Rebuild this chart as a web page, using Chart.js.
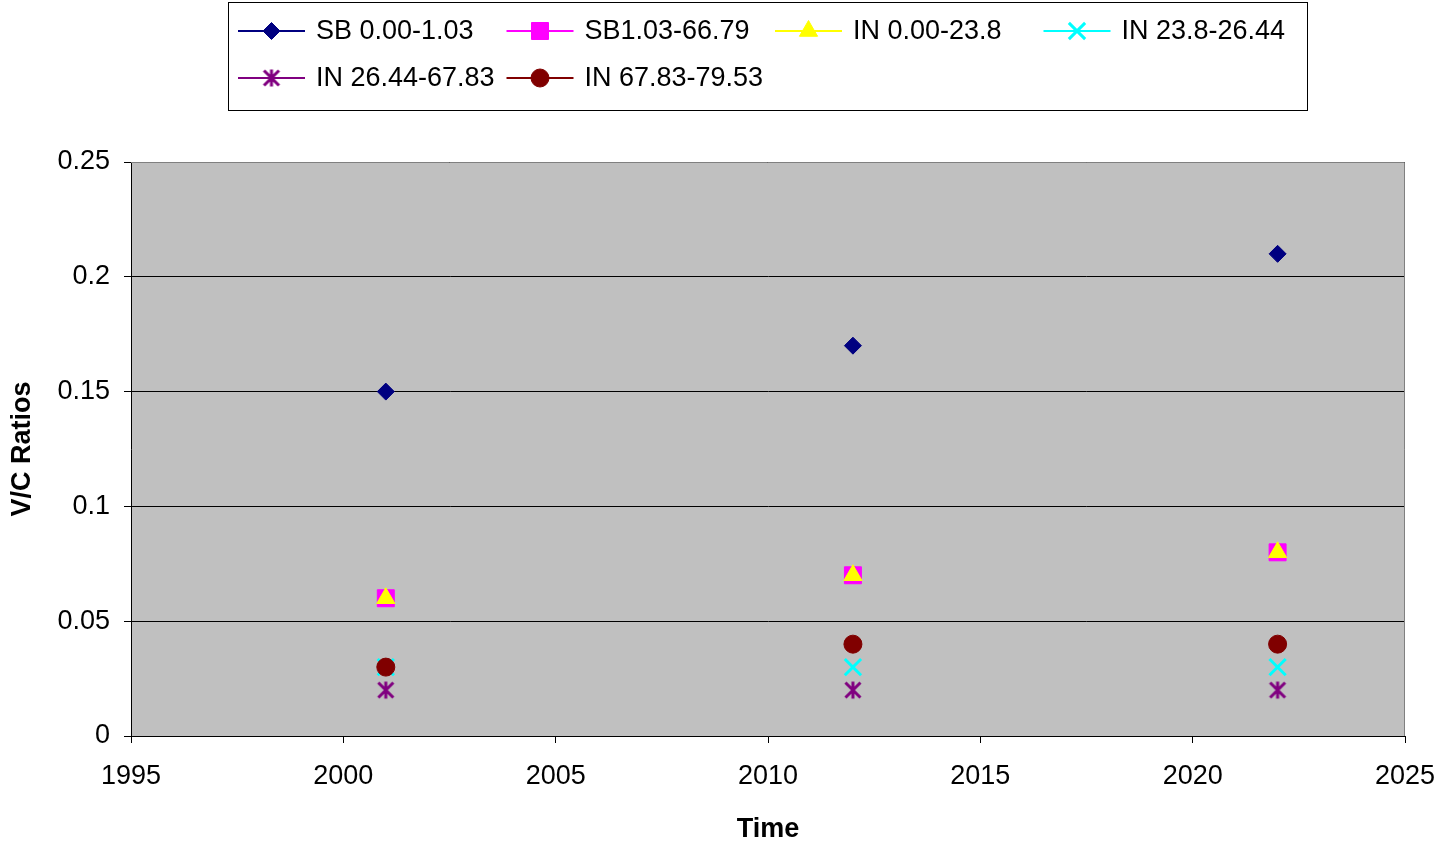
<!DOCTYPE html>
<html>
<head>
<meta charset="utf-8">
<script src="https://cdn.jsdelivr.net/npm/chart.js@4/dist/chart.umd.min.js"></script>
<style>
  html, body { margin: 0; padding: 0; background: #ffffff; }
</style>
</head>
<body>
<canvas id="scatter-chart" width="1450" height="842"></canvas>
<script>
const years = [2001, 2012, 2022];

const seriesNames = [
  "SB 0.00-1.03",
  "SB1.03-66.79",
  "IN 0.00-23.8",
  "IN 23.8-26.44",
  "IN 26.44-67.83",
  "IN 67.83-79.53",
];

const sb_000_103 = [0.15, 0.17, 0.21];
const sb_103_6679 = [0.06, 0.07, 0.08];
const in_000_238 = [0.06, 0.07, 0.08];
const in_238_2644 = [0.03, 0.03, 0.03];
const in_2644_6783 = [0.02, 0.02, 0.02];
const in_6783_7953 = [0.03, 0.04, 0.04];

const xTicks = [1995, 2000, 2005, 2010, 2015, 2020, 2025];
const yTicks = [0, 0.05, 0.1, 0.15, 0.2, 0.25];

const FONT = "'Liberation Sans', Arial, sans-serif";

// excel style asterisk marker (vertical bar + x)
const makeAsterisk = (color) => {
  const c = document.createElement("canvas");
  c.width = 20;
  c.height = 20;
  const g = c.getContext("2d");
  g.strokeStyle = color;
  g.lineWidth = 3;
  g.beginPath();
  g.moveTo(10, 1.5);
  g.lineTo(10, 18.5);
  g.moveTo(2.5, 2.5);
  g.lineTo(17.5, 17.5);
  g.moveTo(17.5, 2.5);
  g.lineTo(2.5, 17.5);
  g.stroke();
  return c;
};

const toPoints = (values) => values.map((v, i) => ({ x: years[i], y: v }));

const styles = [
  { color: "#000080", pointStyle: "rectRot", radius: 8.5, width: 1 },
  { color: "#ff00ff", pointStyle: "rect", radius: 12, width: 1 },
  { color: "#ffff00", pointStyle: "triangle", radius: 10.5, width: 1 },
  { color: "#00ffff", pointStyle: "crossRot", radius: 11.5, width: 3 },
  { color: "#800080", pointStyle: makeAsterisk("#800080"), radius: 9, width: 0 },
  { color: "#800000", pointStyle: "circle", radius: 9, width: 1 },
];

const seriesValues = [sb_000_103, sb_103_6679, in_000_238, in_238_2644, in_2644_6783, in_6783_7953];

const datasets = seriesValues.map((values, i) => ({
  label: seriesNames[i],
  data: toPoints(values),
  borderColor: styles[i].color,
  backgroundColor: styles[i].color,
  pointStyle: styles[i].pointStyle,
  pointRadius: styles[i].radius,
  pointHoverRadius: styles[i].radius,
  borderWidth: styles[i].width,
  order: seriesValues.length - 1 - i,
}));

const plotBackground = {
  id: "plotBackground",
  beforeDraw(chart) {
    const { ctx, chartArea } = chart;
    ctx.save();
    ctx.fillStyle = "#c0c0c0";
    ctx.fillRect(chartArea.left, chartArea.top, chartArea.right - chartArea.left, chartArea.bottom - chartArea.top);
    ctx.restore();
  },
  beforeDatasetsDraw(chart) {
    const { ctx, chartArea } = chart;
    ctx.save();
    ctx.strokeStyle = "#808080";
    ctx.lineWidth = 1;
    ctx.beginPath();
    ctx.moveTo(chartArea.left, chartArea.top + 0.5);
    ctx.lineTo(chartArea.right - 0.5, chartArea.top + 0.5);
    ctx.lineTo(chartArea.right - 0.5, chartArea.bottom);
    ctx.stroke();
    ctx.restore();
  },
};

const legendBox = {
  id: "legendBox",
  afterDraw(chart) {
    const ctx = chart.ctx;
    ctx.save();
    ctx.strokeStyle = "#000000";
    ctx.lineWidth = 1;
    ctx.strokeRect(228.5, 2.5, 1079, 108);
    chart.data.datasets.forEach((ds, i) => {
      const col = i % 4;
      const row = Math.floor(i / 4);
      const x0 = 238 + col * 268.5;
      const y = 31 + row * 47;
      ctx.strokeStyle = ds.borderColor;
      ctx.lineWidth = 2;
      ctx.beginPath();
      ctx.moveTo(x0, y);
      ctx.lineTo(x0 + 67, y);
      ctx.stroke();
      ctx.fillStyle = ds.backgroundColor;
      ctx.lineWidth = ds.borderWidth;
      Chart.helpers.drawPoint(ctx, {
        pointStyle: ds.pointStyle,
        radius: ds.pointRadius,
        borderWidth: ds.borderWidth,
        rotation: 0,
      }, x0 + 33.5, y);
      ctx.fillStyle = "#000000";
      ctx.font = "27px " + FONT;
      ctx.textBaseline = "middle";
      ctx.textAlign = "left";
      ctx.fillText(ds.label, x0 + 78, y + 1);
    });
    ctx.restore();
  },
};

Chart.defaults.font.family = FONT;
Chart.defaults.color = "#000000";

const myChart = new Chart("scatter-chart", {
  type: "scatter",
  data: { datasets: datasets },
  plugins: [plotBackground, legendBox],
  options: {
    responsive: false,
    animation: false,
    layout: {
      padding: { top: 162, right: 45, left: 0, bottom: 0 },
    },
    scales: {
      x: {
        type: "linear",
        min: xTicks[0],
        max: xTicks[xTicks.length - 1],
        afterBuildTicks: (axis) => {
          axis.ticks = xTicks.map((v) => ({ value: v }));
        },
        afterFit: (axis) => {
          axis.height = 106;
          axis.paddingRight = 0;
          axis.paddingLeft = 0;
        },
        border: { color: "#000000", width: 1 },
        grid: {
          drawOnChartArea: false,
          drawTicks: true,
          tickLength: 7,
          color: "#000000",
        },
        ticks: {
          font: { size: 27 },
          padding: 17,
          maxRotation: 0,
          callback: (v) => String(v),
        },
        title: {
          display: true,
          text: "Time",
          font: { size: 27, weight: "bold" },
          padding: { top: 0, bottom: -4 },
        },
      },
      y: {
        min: yTicks[0],
        max: yTicks[yTicks.length - 1],
        afterBuildTicks: (axis) => {
          axis.ticks = yTicks.map((v) => ({ value: v }));
        },
        afterFit: (axis) => {
          axis.width = 131;
        },
        border: { color: "#000000", width: 1 },
        grid: {
          color: "#000000",
          lineWidth: 1,
          drawTicks: true,
          tickLength: 7,
        },
        ticks: {
          font: { size: 27 },
          padding: 14,
          callback: (v) => String(+v.toFixed(2)),
        },
        title: {
          display: true,
          text: "V/C Ratios",
          font: { size: 27, weight: "bold" },
          padding: { top: 6, bottom: 0 },
        },
      },
    },
    plugins: {
      legend: { display: false },
      tooltip: { enabled: false },
    },
  },
});
</script>
</body>
</html>
